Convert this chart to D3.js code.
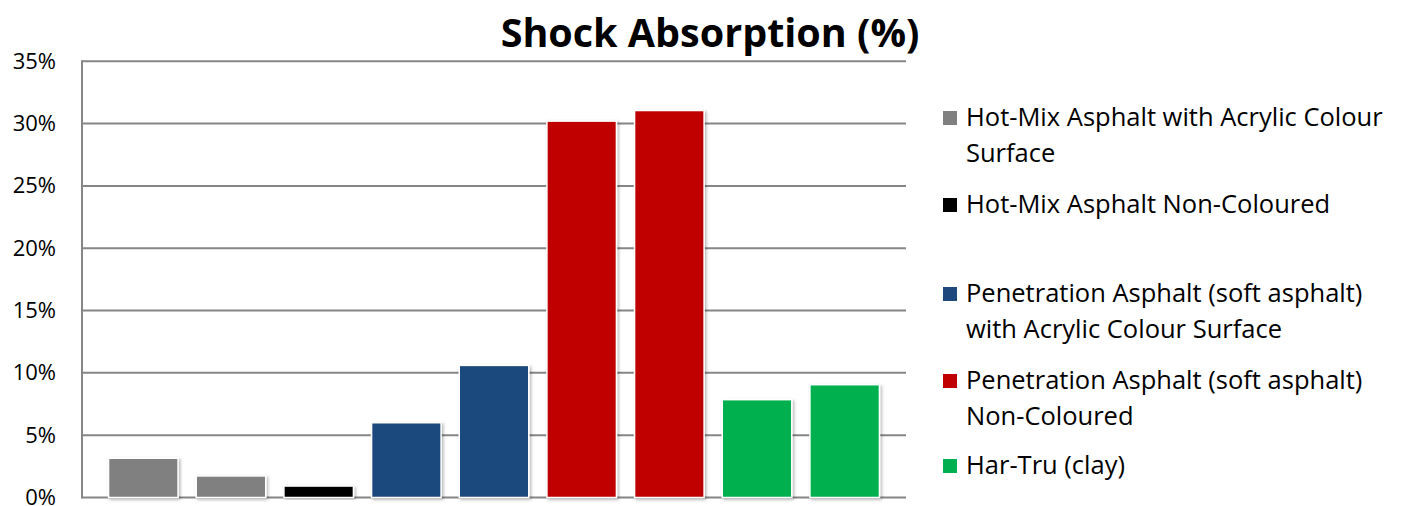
<!DOCTYPE html>
<html>
<head>
<meta charset="utf-8">
<script src="https://cdn.jsdelivr.net/npm/d3@7"></script>
<style>
    body { margin: 0; background: #fff; }
    text { font-family: "Open Sans", Lato, sans-serif; fill: #000; }
</style>
</head>
<body>
<script>
// Surface types (legend order) and their colours
var surfaces = [
    "Hot-Mix Asphalt with Acrylic Colour Surface",
    "Hot-Mix Asphalt Non-Coloured",
    "Penetration Asphalt (soft asphalt) with Acrylic Colour Surface",
    "Penetration Asphalt (soft asphalt) Non-Coloured",
    "Har-Tru (clay)"
];
var surfaceColors = ["#808080", "#000000", "#1f497d", "#c00000", "#00b050"];

// Legend text, split the way it wraps in the picture
var legendLines = [
    ["Hot-Mix Asphalt with Acrylic Colour", "Surface"],
    ["Hot-Mix Asphalt Non-Coloured"],
    ["Penetration Asphalt (soft asphalt)", "with Acrylic Colour Surface"],
    ["Penetration Asphalt (soft asphalt)", "Non-Coloured"],
    ["Har-Tru (clay)"]
];

// One bar per sample, which surface it belongs to and its value (%)
var samples = ["S1", "S2", "S3", "S4", "S5", "S6", "S7", "S8", "S9"];
var sampleSurface = [0, 0, 1, 2, 2, 3, 3, 4, 4];
var shockValues = [3.15, 1.73, 0.92, 6.0, 10.6, 30.2, 31.05, 7.85, 9.05];

var yTicks = [0, 5, 10, 15, 20, 25, 30, 35];

var width = 1404, height = 506;

var svg = d3.select("body")
    .append("svg")
    .attr("width", width)
    .attr("height", height);

// soft shadow under the bars
var shadow = svg.append("defs").append("filter")
    .attr("id", "shadow")
    .attr("x", "-20%").attr("y", "-20%")
    .attr("width", "140%").attr("height", "140%");
shadow.append("feDropShadow")
    .attr("dx", 1.5).attr("dy", 1.5)
    .attr("stdDeviation", 1.5)
    .attr("flood-color", "#000")
    .attr("flood-opacity", 0.3);

var x = d3.scaleBand()
    .domain(samples)
    .range([82, 906])
    .paddingInner(0.207)
    .paddingOuter(0.303);

var y = d3.scaleLinear()
    .domain([0, 35])
    .range([497.5, 61.3]);

// gridlines
svg.append("g")
    .selectAll("line")
    .data(yTicks)
    .enter()
    .append("line")
    .attr("x1", 82)
    .attr("x2", 906)
    .attr("y1", d => y(d))
    .attr("y2", d => y(d))
    .attr("stroke", "#868686")
    .attr("stroke-width", 2);

// y axis line
svg.append("line")
    .attr("x1", 82).attr("x2", 82)
    .attr("y1", y(35) - 1).attr("y2", y(0) + 1)
    .attr("stroke", "#868686")
    .attr("stroke-width", 2);

// tick labels
var yAxis = d3.axisLeft(y)
    .tickValues(yTicks)
    .tickSize(0)
    .tickPadding(26)
    .tickFormat(d => d + "%");

svg.append("g")
    .attr("transform", "translate(82,0)")
    .call(yAxis)
    .call(g => g.select(".domain").remove())
    .selectAll("text")
    .style("font-family", "'Open Sans', Lato, sans-serif")
    .style("font-size", "22px")
    .attr("fill", "#000");

// bars
svg.append("g")
    .selectAll("rect")
    .data(shockValues)
    .enter()
    .append("rect")
    .attr("x", (d, i) => x(samples[i]))
    .attr("y", d => y(d))
    .attr("width", x.bandwidth())
    .attr("height", d => y(0) - y(d))
    .attr("fill", (d, i) => surfaceColors[sampleSurface[i]])
    .attr("stroke", "#fff")
    .attr("stroke-width", 1.5)
    .attr("filter", "url(#shadow)");

// title
svg.append("text")
    .attr("x", 710)
    .attr("y", 47)
    .attr("text-anchor", "middle")
    .style("font-size", "39.5px")
    .style("font-weight", "bold")
    .text("Shock Absorption (%)");

// legend
var legendTop = [118, 205, 294, 381, 466];
var legend = svg.append("g")
    .selectAll("g")
    .data(surfaces)
    .enter()
    .append("g")
    .attr("transform", (d, i) => "translate(943," + legendTop[i] + ")");

legend.append("rect")
    .attr("x", 0)
    .attr("y", -7)
    .attr("width", 14)
    .attr("height", 14)
    .attr("fill", (d, i) => surfaceColors[i]);

legend.append("text")
    .attr("x", 23)
    .attr("y", 8)
    .style("font-size", "25.5px")
    .selectAll("tspan")
    .data((d, i) => legendLines[i])
    .enter()
    .append("tspan")
    .attr("x", 23)
    .attr("dy", (d, j) => j === 0 ? 0 : 35.5)
    .text(d => d);
</script>
</body>
</html>
